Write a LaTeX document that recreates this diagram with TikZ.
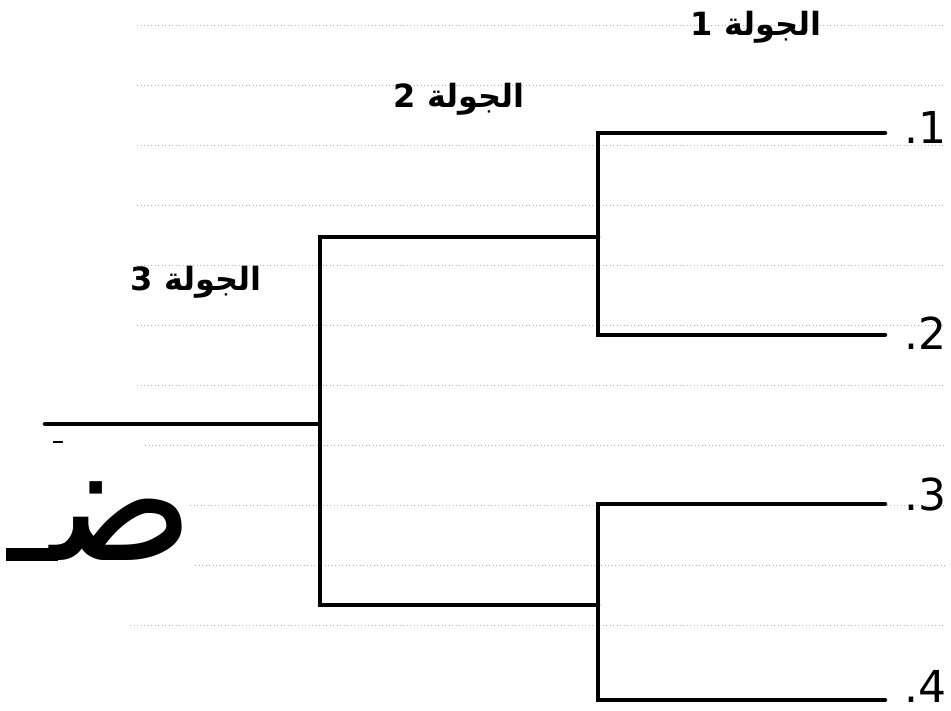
\documentclass[tikz,border=0pt]{standalone}
\usepackage{fontspec}
\setmainfont{DejaVu Sans}
\newfontfamily\arabicfont[Script=Arabic]{DejaVu Sans}
\TeXXeTstate=1
\begin{document}
\begin{tikzpicture}[x=1pt,y=-1pt,
  guide/.style={gray!60, line width=0.7pt, dash pattern=on 1pt off 2.5pt},
  bracket/.style={line width=4.5pt, line cap=round, line join=miter},
  roundlabel/.style={font=\arabicfont\bfseries\fontsize{32}{34}\selectfont, inner sep=0pt, anchor=base east},
  seedlabel/.style={font=\fontsize{44}{46}\selectfont, inner sep=0pt, anchor=base east}]
\useasboundingbox (0,0) rectangle (951,711);
% guide lines
\foreach \yy/\xs in {25/137,85/137,145/137,205/137,265/137,325/137,385/137,445/145,505/190,565/195,625/130}
  \draw[guide] (\xs,\yy) -- (945,\yy);
% bracket coordinates
\coordinate (s1) at (885,133);
\coordinate (s2) at (885,335);
\coordinate (s3) at (885,504);
\coordinate (s4) at (885,700);
\coordinate (j1) at (598,237);
\coordinate (j2) at (598,605);
\coordinate (k) at (320,424);
\coordinate (w) at (45,424);
\draw[bracket] (s1) -| (j1) |- (s2);
\draw[bracket] (s3) -| (j2) |- (s4);
\draw[bracket] (j1) -| (k) |- (j2);
\draw[bracket] (k) -- (w);
% seed labels
\node[seedlabel] (n1) at (947,144) {.1};
\node[seedlabel] (n2) at (947,350) {.2};
\node[seedlabel] (n3) at (947,510) {.3};
\node[seedlabel] (n4) at (947,702) {.4};
% round labels
\node[roundlabel] (r1) at (822,36) {\beginR الجولة 1\endR};
\node[roundlabel] (r2) at (525,108) {\beginR الجولة 2\endR};
\node[roundlabel] (r3) at (262,291) {\beginR الجولة 3\endR};
% big letter with its connecting stroke
\node[font=\arabicfont\fontsize{170}{180}\selectfont, inner sep=0pt, anchor=base east] (big) at (195,560) {\beginR ض^^^^200d\endR};
\fill (6,548) rectangle (58,561);
\coordinate (d1) at (53,442);
\coordinate (d2) at (63,442);
\draw[line width=1.5pt] (d1) -- (d2);
\end{tikzpicture}
\end{document}
